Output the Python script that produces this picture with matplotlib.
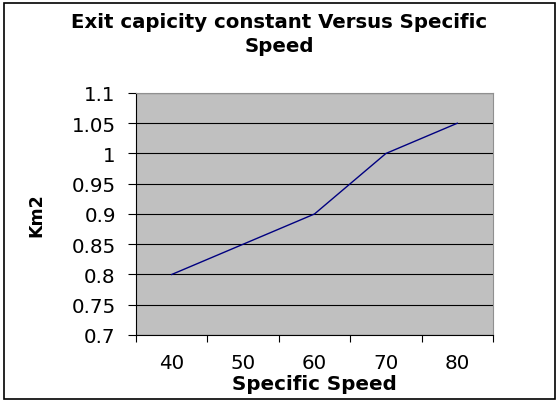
import matplotlib
matplotlib.use("Agg")
import matplotlib.pyplot as plt
from matplotlib.patches import Rectangle

plt.rcParams['font.family'] = ['DejaVu Sans']

# Exit capacity constant against specific speed
speeds = ['40', '50', '60', '70', '80']
km2 = [0.8, 0.85, 0.9, 1.0, 1.05]
y_ticks = [0.7, 0.75, 0.8, 0.85, 0.9, 0.95, 1.0, 1.05, 1.1]
y_labels = ['0.7', '0.75', '0.8', '0.85', '0.9', '0.95', '1', '1.05', '1.1']

fig = plt.figure(figsize=(5.58, 4.02), dpi=100)
ax = fig.add_axes([0.2437, 0.1642, 0.6398, 0.602])

# outer chart border
fig.patches.append(Rectangle((0.007, 0.005), 0.988, 0.985, transform=fig.transFigure,
                             fill=False, edgecolor='black', linewidth=1.2))

x = range(len(speeds))
ax.plot(x, km2, color='#000080', linewidth=1.0, zorder=3)

ax.set_facecolor('#C0C0C0')
ax.set_xlim(-0.5, len(speeds) - 0.5)
ax.set_ylim(0.7, 1.1)
ax.set_yticks(y_ticks)
ax.set_yticklabels(y_labels, fontsize=14.3)
ax.yaxis.grid(True, color='black', linewidth=0.8)
ax.set_axisbelow(True)

# category axis: ticks sit between categories, labels centred on them
ax.set_xticks([i - 0.5 for i in range(len(speeds) + 1)])
ax.set_xticklabels([])
ax.set_xticks(list(x), minor=True)
ax.set_xticklabels(speeds, minor=True, fontsize=14.3)
ax.tick_params(axis='x', which='minor', length=0, pad=13)
ax.tick_params(axis='x', which='major', length=5, direction='out', color='black')
ax.tick_params(axis='y', length=5.5, direction='out', color='black', pad=9)

for side in ('top', 'right'):
    ax.spines[side].set_color('#909090')
for side in ('left', 'bottom'):
    ax.spines[side].set_color('black')

ax.set_xlabel('Specific Speed', fontsize=14.3, fontweight='bold')
ax.xaxis.set_label_coords(0.5, -0.16)
ax.set_ylabel('Km2', fontsize=12.5, fontweight='bold')
ax.yaxis.set_label_coords(-0.255, 0.5)
fig.text(0.5, 0.967, 'Exit capicity constant Versus Specific\nSpeed', ha='center', va='top',
         fontsize=14.2, fontweight='bold', linespacing=1.3)

fig.savefig('out.png', dpi=100)
